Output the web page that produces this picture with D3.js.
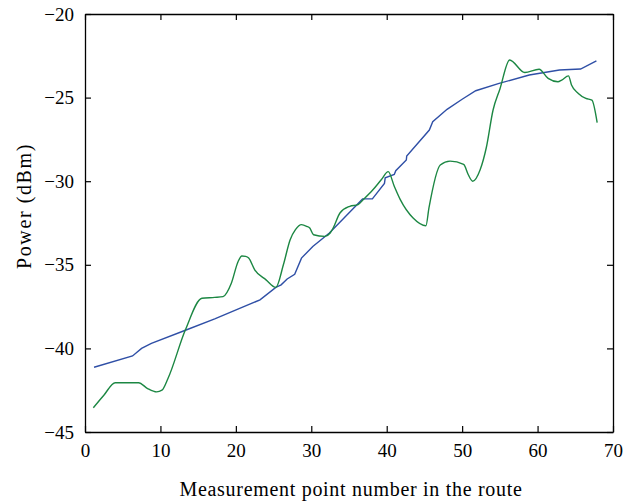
<!DOCTYPE html>
<html>
<head>
<meta charset="utf-8">
<script src="https://cdn.jsdelivr.net/npm/d3@7"></script>
<style>
  body { margin: 0; background: #fff; }
  text { font-family: "Liberation Serif", "DejaVu Serif", serif; fill: #000; }
</style>
</head>
<body>
<div class="graph"></div>
<script>
// data
const xTicks = [0, 10, 20, 30, 40, 50, 60, 70];
const yTicks = [-45, -40, -35, -30, -25, -20];

const blueX = [1.2, 6.3, 7.5, 8.8, 13.4, 17.2, 20.5, 23.2, 25.3, 26, 26.8, 27.8, 28.7, 30.2, 32.4, 36.8, 38.1,
  39.7, 39.8, 41.0, 41.2, 42.6, 42.65, 45.65, 46.1, 48, 50, 51.8, 54.9, 58.9, 62.9, 65.7, 67.8];
const blueY = [-41.13, -40.45, -40.0, -39.7, -38.9, -38.24, -37.6, -37.1, -36.35, -36.2, -35.85, -35.57, -34.6, -33.9, -33.1, -31.06, -31.06,
  -30.13, -29.8, -29.6, -29.37, -28.73, -28.5, -26.94, -26.44, -25.7, -25.1, -24.59, -24.15, -23.65, -23.35, -23.29, -22.8];

const greenX = [1.1, 2.5, 4.0, 7.1, 8.3, 9.5, 10.2, 11, 13.3, 15.5, 17.2, 18.3, 19.4, 20.3, 20.8, 21.3, 21.7, 22.5, 24, 25.3,
  26.3, 27.2, 27.9, 28.7, 29.4, 29.8, 30.3, 31.8, 32.5, 32.9, 33.8, 35.1, 36.2, 36.9, 38.2, 39.3, 40.2, 41.0, 41.8, 43.5,
  45.2, 45.6, 47.1, 48.4, 50.2, 50.8, 51.4, 52.4, 53.2, 54.1, 55.0, 56.3, 58.3, 60.2, 61.4, 62.7, 63.2, 64.1, 64.5, 65.4,
  66.4, 67.2, 67.9];
const greenY = [-43.55, -42.8, -42.05, -42.05, -42.4, -42.6, -42.5, -41.8, -38.9, -37.0, -36.95, -36.9, -36.1, -34.8, -34.47, -34.5, -34.6, -35.3, -35.9, -36.35,
  -35.0, -33.5, -32.9, -32.6, -32.7, -32.8, -33.2, -33.3, -33.1, -32.8, -31.9, -31.5, -31.4, -31.1, -30.5, -29.9, -29.43, -30.3, -31.1, -32.2,
  -32.66, -31.6, -29.03, -28.8, -29.0, -29.6, -30.0, -29.3, -28.0, -25.74, -24.5, -22.75, -23.5, -23.3, -23.85, -24.05, -23.95, -23.7, -24.25, -24.75,
  -25.05, -25.15, -26.5];

//dimensions
const SIZE = {X: 643, Y: 502};
const MARGIN = {TOP: 14, LEFT: 85, RIGHT: 30, BOTTOM: 70};
const DIM = {WIDTH: SIZE.X - MARGIN.LEFT - MARGIN.RIGHT, HEIGHT: SIZE.Y - MARGIN.TOP - MARGIN.BOTTOM};

const svg = d3.select(".graph").append("svg")
    .attr("width", SIZE.X)
    .attr("height", SIZE.Y);

const graph = svg.append("g")
    .attr("transform", `translate(${MARGIN.LEFT}, ${MARGIN.TOP})`);

const x = d3.scaleLinear().domain([0, 70]).range([0, DIM.WIDTH]);
const y = d3.scaleLinear().domain([-45, -20]).range([DIM.HEIGHT, 0]);

const fmt = d => d < 0 ? "\u2212" + Math.abs(d) : String(d);

// axes, ticks pointing inward on all four sides
graph.append("g")
    .attr("transform", `translate(0, ${DIM.HEIGHT})`)
    .call(d3.axisBottom(x).tickValues(xTicks).tickSizeInner(-6).tickSizeOuter(0).tickPadding(12).tickFormat(fmt));
graph.append("g")
    .call(d3.axisTop(x).tickValues(xTicks).tickSizeInner(-6).tickSizeOuter(0).tickFormat(""));
graph.append("g")
    .call(d3.axisLeft(y).tickValues(yTicks).tickSizeInner(-6).tickSizeOuter(0).tickPadding(11).tickFormat(fmt));
graph.append("g")
    .attr("transform", `translate(${DIM.WIDTH}, 0)`)
    .call(d3.axisRight(y).tickValues(yTicks).tickSizeInner(-6).tickSizeOuter(0).tickFormat(""));

graph.selectAll(".domain").attr("stroke", "#000").attr("stroke-width", 1.3);
graph.selectAll(".tick line").attr("stroke", "#000").attr("stroke-width", 1.2);
graph.selectAll(".tick text")
    .style("font-family", "'Liberation Serif', serif")
    .style("font-size", "19px");

// lines
const smooth = d3.line()
    .x(d => x(d[0]))
    .y(d => y(d[1]))
    .curve(d3.curveMonotoneX);
const straight = d3.line()
    .x(d => x(d[0]))
    .y(d => y(d[1]));

const blue = blueX.map((v, i) => [v, blueY[i]]);
const green = greenX.map((v, i) => [v, greenY[i]]);

graph.append("path")
    .datum(blue)
    .attr("fill", "none")
    .attr("stroke", "#2f4fa6")
    .attr("stroke-width", 1.4)
    .attr("d", straight);

graph.append("path")
    .datum(green)
    .attr("fill", "none")
    .attr("stroke", "#1c8743")
    .attr("stroke-width", 1.4)
    .attr("d", smooth);

// labels
svg.append("text")
    .attr("x", 351)
    .attr("y", 496)
    .attr("text-anchor", "middle")
    .style("font-size", "20px")
    .style("letter-spacing", "0.7px")
    .text("Measurement point number in the route");

svg.append("text")
    .attr("transform", `translate(31, 206) rotate(-90)`)
    .attr("text-anchor", "middle")
    .style("font-size", "20px")
    .style("letter-spacing", "1.6px")
    .text("Power (dBm)");
</script>
</body>
</html>
